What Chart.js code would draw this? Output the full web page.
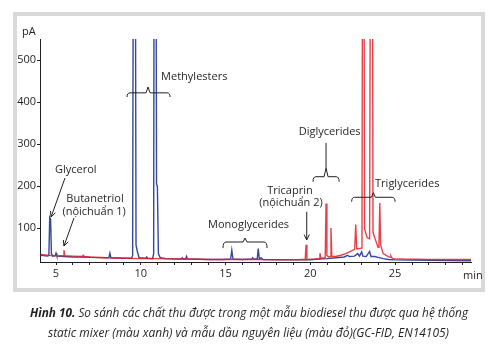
<!DOCTYPE html>
<html><head><meta charset="utf-8">
<script src="https://cdn.jsdelivr.net/npm/chart.js@4"></script>
<style>
html,body{margin:0;padding:0;background:#fff;width:497px;height:354px;overflow:hidden;}
#frame{position:absolute;left:13px;top:12px;width:472px;height:280px;box-sizing:border-box;border:4px solid #d9d9d9;background:#fff;}
#wrap{position:absolute;left:0;top:0;width:497px;height:354px;}
.cap{position:absolute;left:0;white-space:nowrap;font-family:'Open Sans',sans-serif;font-style:italic;font-size:12.5px;color:#231f20;transform-origin:0 50%;line-height:16px;}
</style></head>
<body>
<div id="frame"></div>
<div id="wrap"><canvas id="c" width="497" height="354"></canvas></div>
<div class="cap" id="cap1" data-cx="249" data-w="438" style="top:305px"><b>Hình 10.</b> So sánh các chất thu được trong một mẫu biodiesel thu được qua hệ thống</div>
<div class="cap" id="cap2" data-cx="248" data-w="401" style="top:325px">static mixer (màu xanh) và mẫu dầu nguyên liệu (màu đỏ)(GC-FID, EN14105)</div>
<script>
// ---- data (retention time in min, signal in pA) ----
const blueTimes = [4.1,4.5,4.58,4.63,4.68,4.73,4.8,4.95,5.0,5.05,5.5,6.0,6.6,7.0,8.0,8.12,8.18,8.24,9.0,9.45,9.52,9.58,9.66,9.72,9.8,9.9,10.3,10.35,10.4,10.7,10.76,10.8,10.88,10.93,10.98,11.04,11.15,11.5,12.4,12.45,12.5,12.65,12.7,12.75,14.0,14.9,15.3,15.37,15.44,16.0,16.55,16.6,16.65,16.87,16.93,16.99,17.1,17.2,19.0,20.0,20.5,21.0,21.5,22.0,22.2,22.3,22.6,22.8,22.9,23.03,23.1,23.3,23.5,23.58,23.8,24.0,24.3,24.6,25.0,27.0,29.48];
const blueValues = [36,34,36,126,122,40,34,35,41,34,33,32,32,31,30,31,41,30,29,29,35,1200,1200,60,45,30,29,32,29,28,40,1200,1200,205,200,40,30,28,27,30,27,27,33,27,26,26,27,48,27,26,27,30,27,27,52,28,30,26,25,25,27,28,30,32,36,33,34,40,34,44,34,33,45,33,33,31,28,26,25,24,23];
const redTimes = [4.1,4.5,5.0,5.42,5.47,5.52,6.0,6.55,6.6,6.65,7.0,8.0,9.0,10.0,11.0,12.0,13.0,14.0,15.0,16.0,17.0,18.0,19.0,19.5,19.7,19.75,19.8,20.3,20.52,20.57,20.62,20.88,20.93,20.98,21.1,21.17,21.22,21.27,21.5,21.8,22.1,22.4,22.62,22.68,22.74,22.9,23.0,23.05,23.1,23.15,23.2,23.35,23.5,23.57,23.65,23.7,23.85,24.0,24.05,24.1,24.15,24.3,24.6,24.72,24.76,24.8,24.9,25.5,27.0,29.48];
const redValues = [38,36,35,35,48,35,34,33,36,33,32,30,29,28,28,27,27,26,26,26,26,25,25,26,26,61,26,27,28,41,29,30,159,35,32,33,101,33,33,36,40,46,50,109,51,52,53,90,1200,1200,100,78,75,1200,1200,90,72,55,60,160,60,40,33,31,34,30,28,27,26,26];
const xTickLabels = [5,10,15,20,25];
const yTickValues = [100,200,300,400,500];
const xRange = [4.056, 29.48];
const yRange = [20, 550];
// annotations in data coordinates
const labels = [
  {text:'Methylesters', t:11.2, v:460, align:'left'},
  {text:'Glycerol', t:4.94, v:239, align:'left'},
  {text:'Butanetriol', t:7.3, v:170, align:'center'},
  {text:'(nộichuẩn 1)', t:7.25, v:139, align:'center'},
  {text:'Monoglycerides', t:13.97, v:108, align:'left'},
  {text:'Tricaprin', t:18.8, v:189, align:'center'},
  {text:'(nộichuẩn 2)', t:18.86, v:160, align:'center'},
  {text:'Diglycerides', t:21.14, v:329, align:'center'},
  {text:'Triglycerides', t:23.82, v:205, align:'left'}
];
const braces = [
  {t0:9.19, t1:11.73, tc:10.43, v:422, vEnd:412, vTip:436},
  {t0:14.85, t1:17.45, tc:16.15, v:67.5, vEnd:53, vTip:77},
  {t0:20.16, t1:21.7, tc:20.93, v:222.7, vEnd:210.8, vTip:243, lineTo:302.8},
  {t0:22.44, t1:25.0, tc:23.72, v:173.8, vEnd:163.3, vTip:184.7}
];
const arrows = [
  {t0:5.53, v0:219.6, t1:4.71, v1:127},
  {t0:6.06, v0:124.6, t1:5.47, v1:58},
  {t0:19.79, v0:139.5, t1:19.79, v1:72.3}
];

const toXY = (ts, vs) => ts.map((t,i)=>({x:t, y:vs[i]}));
const INK = '#231f20';
const FONT = "11px 'Open Sans', sans-serif";

const annot = {
  id:'annot',
  afterDraw(chart){
    const {ctx, scales:{x, y}, chartArea:a} = chart;
    const X = t => x.getPixelForValue(t), Y = v => y.getPixelForValue(v);
    ctx.save();
    ctx.fillStyle = INK; ctx.strokeStyle = INK; ctx.lineWidth = 1;
    ctx.font = FONT; ctx.textBaseline = 'middle';
    labels.forEach(l => { ctx.textAlign = l.align; ctx.fillText(l.text, X(l.t), Y(l.v)); });
    ctx.textAlign = 'left';
    ctx.fillText('pA', a.left - 18, a.top - 7);
    ctx.fillText('min', a.right - 8, a.bottom + 14);
    braces.forEach(b => {
      const x0 = X(b.t0), x1 = X(b.t1), xc = X(b.tc), yy = Y(b.v), ye = Y(b.vEnd), yt = Y(b.vTip);
      ctx.beginPath();
      ctx.moveTo(x0, ye); ctx.quadraticCurveTo(x0, yy, x0 + 3, yy);
      ctx.lineTo(xc - 2, yy); ctx.lineTo(xc, yt); ctx.lineTo(xc + 2, yy);
      ctx.lineTo(x1 - 3, yy); ctx.quadraticCurveTo(x1, yy, x1, ye);
      if (b.lineTo !== undefined) { ctx.moveTo(xc, yt); ctx.lineTo(xc, Y(b.lineTo)); }
      ctx.stroke();
    });
    arrows.forEach(r => {
      const x0 = X(r.t0), y0 = Y(r.v0), x1 = X(r.t1), y1 = Y(r.v1);
      ctx.beginPath(); ctx.moveTo(x0, y0); ctx.lineTo(x1, y1); ctx.stroke();
      const ang = Math.atan2(y1 - y0, x1 - x0), L = 6, w = 0.45;
      ctx.beginPath();
      ctx.moveTo(x1 - L*Math.cos(ang - w), y1 - L*Math.sin(ang - w));
      ctx.lineTo(x1, y1);
      ctx.lineTo(x1 - L*Math.cos(ang + w), y1 - L*Math.sin(ang + w));
      ctx.stroke();
    });
    ctx.restore();
  }
};

new Chart(document.getElementById('c'), {
  type:'line',
  data:{datasets:[
    {label:'biodiesel (static mixer)', order:1, data:toXY(blueTimes, blueValues), borderColor:'rgb(52,72,160)', borderWidth:1.4, pointRadius:0, tension:0, fill:false},
    {label:'dầu nguyên liệu', order:0, data:toXY(redTimes, redValues), borderColor:'rgba(226,30,42,0.85)', borderWidth:1.4, pointRadius:0, tension:0, fill:false}
  ]},
  options:{
    responsive:false, animation:false, devicePixelRatio:1,
    layout:{padding:{left:0, top:39, right:26, bottom:72}},
    plugins:{legend:{display:false}, tooltip:{enabled:false}},
    scales:{
      x:{type:'linear', min:xRange[0], max:xRange[1],
        afterBuildTicks: s => { const t=[]; for (let k=Math.ceil(xRange[0]); k<=Math.floor(xRange[1]); k++) t.push({value:k}); s.ticks=t; },
        afterFit: s => { s.height = 20; },
        ticks:{autoSkip:false, maxRotation:0, padding:2, color:INK, font:{family:"'Open Sans', sans-serif", size:11},
          callback: v => xTickLabels.includes(v) ? String(v) : ''},
        grid:{drawOnChartArea:false, drawTicks:true, tickLength:3, color:INK, tickColor:INK},
        border:{display:true, color:INK, width:1}},
      y:{type:'linear', min:yRange[0], max:yRange[1],
        afterBuildTicks: s => { s.ticks = yTickValues.map(v=>({value:v})); },
        afterFit: s => { s.width = 40; },
        ticks:{padding:1, color:INK, font:{family:"'Open Sans', sans-serif", size:11}},
        grid:{drawOnChartArea:false, drawTicks:true, tickLength:3, color:INK, tickColor:INK},
        border:{display:true, color:INK, width:1}}
    }
  },
  plugins:[annot]
});

document.querySelectorAll('.cap').forEach(el => {
  const w = el.getBoundingClientRect().width, target = +el.dataset.w, cx = +el.dataset.cx;
  const s = target / w;
  el.style.left = (cx - target/2) + 'px';
  el.style.transform = 'scaleX(' + s + ')';
});
</script>
</body></html>
